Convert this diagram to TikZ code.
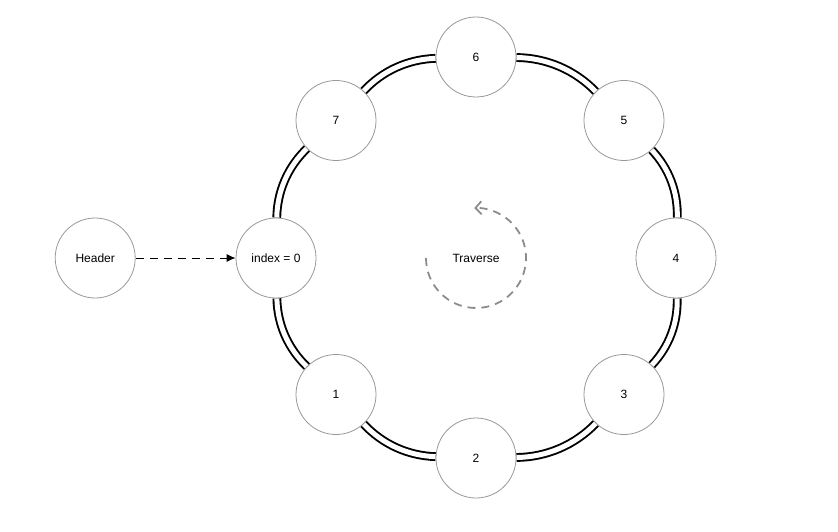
\documentclass[tikz,border=0pt]{standalone}
\usepackage{fontspec}
\setmainfont{Liberation Sans}
\usepackage{xcolor}
\usepackage{tikz}
\usetikzlibrary{positioning,arrows.meta}

\begin{document}
\begin{tikzpicture}[
    x=1pt,y=1pt,
    node distance=100pt,
    entry/.style={circle,draw=black!40,line width=0.8pt,fill=white,minimum size=80pt,inner sep=0pt,font=\fontsize{12}{14}\selectfont},
    ring/.style={double,double distance=5pt,line width=1.9pt,black},
    arrow/.style={-{Latex[length=9pt,width=8pt]},dash pattern=on 8pt off 6pt,line width=0.9pt},
    traverse/.style={-{Straight Barb[length=6pt,width=13pt]},dash pattern=on 8pt off 6pt,line width=1.8pt,black!45}
]
\useasboundingbox (0,0) rectangle (838,531);

% ring links first, entries drawn over them
\path (276,273) coordinate (p0) (336,410.5) coordinate (p7) (476,474) coordinate (p6)
      (624,410.5) coordinate (p5) (676,273) coordinate (p4) (624,136.5) coordinate (p3)
      (476,73) coordinate (p2) (336,136.5) coordinate (p1);
\foreach \i in {0,...,7}
    \node[entry,draw=none,fill=none] (n\i) at (p\i) {};
\foreach \p/\q in {0/7,7/6,6/5,5/4,4/3,3/2,2/1,1/0}
    \draw[ring] (n\p) to[bend left=22.5,looseness=0.9] (n\q);

\node[entry] (e0) at (p0) {index = 0};
\foreach \i in {1,...,7}
    \node[entry] (e\i) at (p\i) {\i};

\node[entry,left=of e0] (hdr) {Header};
\draw[arrow] (hdr) -- (e0);

\node[font=\fontsize{12}{14}\selectfont] (trav) at (476,273) {Traverse};
\draw[traverse] ([shift={(180:50)}]trav.center) arc[start angle=180,end angle=452,radius=50];

\end{tikzpicture}
\end{document}
